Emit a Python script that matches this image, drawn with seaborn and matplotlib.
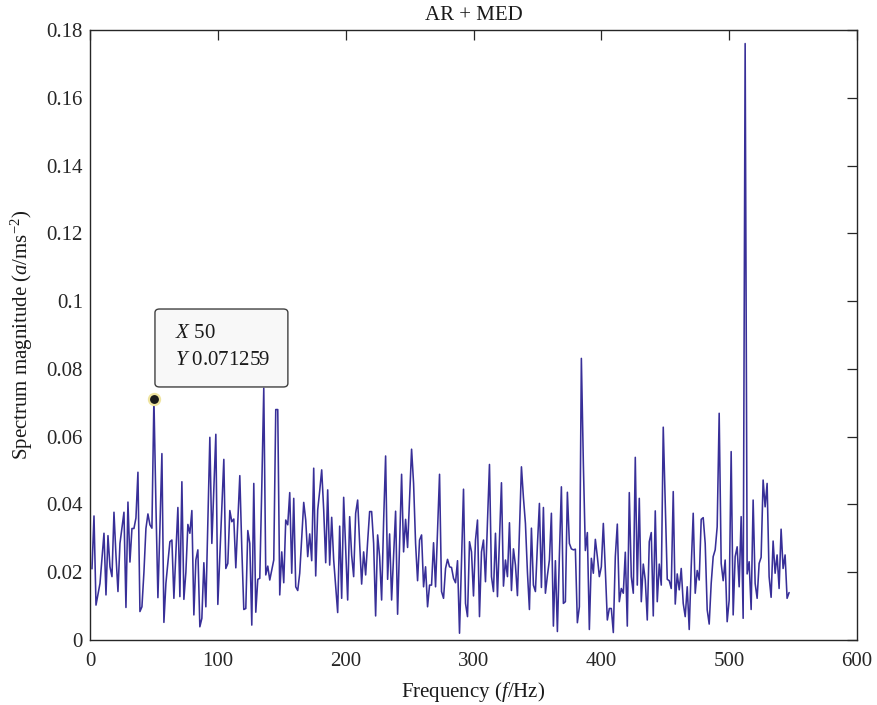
import numpy as np
import pandas as pd
import matplotlib
matplotlib.use("Agg")
import matplotlib.pyplot as plt
from matplotlib.patches import FancyBboxPatch
import seaborn as sns

# ---------------- data ----------------
freq_step = 1.5625  # Hz, spectral line spacing
magnitude_a = [  # 1.56 .. 151.6 Hz
    0.021, 0.0366, 0.0103, 0.0135, 0.0167, 0.024, 0.0315, 0.0133, 0.0308, 0.0216,
    0.0187, 0.0377, 0.025, 0.0143, 0.0285, 0.033, 0.0377, 0.0096, 0.0407, 0.023,
    0.0329, 0.0329, 0.036, 0.0495, 0.0084, 0.0098, 0.020, 0.0329, 0.0372, 0.034,
    0.033, 0.071259, 0.04, 0.0125, 0.033, 0.055, 0.0052, 0.0167, 0.023, 0.029,
    0.0295, 0.0123, 0.026, 0.0391, 0.0128, 0.0467, 0.012, 0.020, 0.0341, 0.0315,
    0.0382, 0.0074, 0.0236, 0.0266, 0.0039, 0.0064, 0.0228, 0.0098, 0.035, 0.0598,
    0.0285, 0.045, 0.0607, 0.0105, 0.025, 0.04, 0.0533, 0.0211, 0.0226, 0.0382,
    0.0349, 0.0357, 0.0213, 0.035, 0.0485, 0.027, 0.009, 0.0093, 0.0323, 0.0285,
    0.0044, 0.0462, 0.0082, 0.0179, 0.0182, 0.045, 0.0743, 0.0192, 0.0218, 0.0177,
    0.0207, 0.0236, 0.068, 0.068, 0.0133, 0.026, 0.0169,
]
magnitude_b = [  # 153.1 .. 303.1 Hz
    0.0354, 0.034, 0.0435, 0.0197, 0.0418, 0.0157, 0.0146, 0.0197, 0.03, 0.0406,
    0.0354, 0.0246, 0.0313, 0.0234, 0.0507, 0.0189, 0.0384, 0.044, 0.0502, 0.0384,
    0.0228, 0.0443, 0.0221, 0.0362, 0.0236, 0.016, 0.0081, 0.0336, 0.0123, 0.0421,
    0.0272, 0.0118, 0.0364, 0.025, 0.0187, 0.0374, 0.0413, 0.0285, 0.0165, 0.026,
    0.0192, 0.029, 0.0379, 0.0379, 0.0285, 0.0071, 0.031, 0.0246, 0.0118, 0.035,
    0.0543, 0.0179, 0.0313, 0.0118, 0.025, 0.038, 0.0076, 0.028, 0.0489, 0.026,
    0.0356, 0.0273, 0.042, 0.0563, 0.0462, 0.0285, 0.0175, 0.0295, 0.031, 0.0157,
    0.0216, 0.0098, 0.0162, 0.0162, 0.0287, 0.0157, 0.032, 0.0489, 0.0143, 0.0123,
    0.0211, 0.0238, 0.0216, 0.0214, 0.0182, 0.0169, 0.0234, 0.002, 0.023, 0.0445,
    0.0108, 0.0069, 0.029, 0.026, 0.013, 0.0295, 0.0354,
]
magnitude_c = [  # 304.7 .. 454.7 Hz
    0.0069, 0.026, 0.0295, 0.0172, 0.035, 0.0518, 0.0187, 0.0143, 0.0315, 0.0128,
    0.03, 0.0464, 0.0159, 0.0236, 0.0187, 0.0346, 0.0146, 0.0269, 0.0221, 0.0131,
    0.032, 0.0511, 0.042, 0.0344, 0.02, 0.009, 0.033, 0.0162, 0.0143, 0.028,
    0.0403, 0.0155, 0.0391, 0.0138, 0.019, 0.0236, 0.0374, 0.0041, 0.0234, 0.0025,
    0.025, 0.0452, 0.0108, 0.0113, 0.0436, 0.0285, 0.0269, 0.0266, 0.0268, 0.0051,
    0.0098, 0.0831, 0.052, 0.0264, 0.0317, 0.0031, 0.0241, 0.0197, 0.0297, 0.0246,
    0.0187, 0.0216, 0.0344, 0.0207, 0.0059, 0.0093, 0.0093, 0.0022, 0.0246, 0.0342,
    0.0113, 0.0152, 0.0138, 0.0259, 0.0041, 0.0435, 0.0187, 0.0138, 0.0539, 0.0162,
    0.0418, 0.0113, 0.0224, 0.0177, 0.0059, 0.029, 0.0317, 0.0071, 0.0381, 0.0113,
    0.0224, 0.0162, 0.0628, 0.04, 0.0179, 0.0175, 0.0152,
]
magnitude_d = [  # 456.3 .. 546.9 Hz
    0.0438, 0.0106, 0.0195, 0.0148, 0.0211, 0.0108, 0.0069, 0.0157, 0.0031, 0.0216,
    0.0374, 0.0138, 0.0205, 0.0177, 0.0356, 0.0361, 0.0285, 0.0089, 0.0047, 0.0167,
    0.0246, 0.0266, 0.0334, 0.0669, 0.0226, 0.0175, 0.0236, 0.0054, 0.0118, 0.0556,
    0.0074, 0.0246, 0.0275, 0.0157, 0.0364, 0.0064, 0.176, 0.0195, 0.0231, 0.009,
    0.0413, 0.0167, 0.0123, 0.0226, 0.0244, 0.0472, 0.0393, 0.0462, 0.0187, 0.0126,
    0.0292, 0.0197, 0.0251, 0.0152, 0.0327, 0.0211, 0.0251, 0.0123, 0.014,
]
magnitude = magnitude_a + magnitude_b + magnitude_c + magnitude_d
frequency = (np.arange(1, len(magnitude) + 1) * freq_step).tolist()

tip_x = 50
tip_y = 0.071259

x_ticks = [0, 100, 200, 300, 400, 500, 600]
y_ticks = [0, 0.02, 0.04, 0.06, 0.08, 0.1, 0.12, 0.14, 0.16, 0.18]
y_tick_labels = ["0", "0.02", "0.04", "0.06", "0.08", "0.1", "0.12", "0.14", "0.16", "0.18"]

title_text = "AR + MED"
x_label = r"Frequency ($\mathit{f}$/Hz)"
y_label = r"Spectrum magnitude ($\mathit{a}$/ms$^{-2}$)"

# ---------------- style ----------------
sns.set_theme(style="white")
plt.rcParams["font.family"] = ["Liberation Serif", "DejaVu Serif"]
plt.rcParams["mathtext.fontset"] = "custom"
plt.rcParams["mathtext.rm"] = "Liberation Serif"
plt.rcParams["mathtext.it"] = "Liberation Serif:italic"
plt.rcParams["mathtext.bf"] = "Liberation Serif:bold"
plt.rcParams["axes.unicode_minus"] = True

FS = 15
line_color = "#382f98"
axis_color = "#262626"
text_color = "#1a1a1a"

fig = plt.figure(figsize=(8.78, 7.05), dpi=100)
ax = fig.add_axes([90 / 878, 1 - 640 / 705, 767 / 878, 610 / 705])

df = pd.DataFrame({"Frequency": frequency, "Magnitude": magnitude})
sns.lineplot(data=df, x="Frequency", y="Magnitude", ax=ax, color=line_color,
             linewidth=1.15, estimator=None, sort=False)

ax.set_xlim(0, 600)
ax.set_ylim(0, 0.18)
ax.set_xticks(x_ticks)
ax.set_xticklabels([str(t) for t in x_ticks])
ax.set_yticks(y_ticks)
ax.set_yticklabels(y_tick_labels)
ax.tick_params(direction="in", length=7, width=0.9, top=True, right=True,
               labelsize=FS, colors=axis_color, pad=5)
ax.tick_params(axis="x", pad=9)
for sp in ax.spines.values():
    sp.set_visible(True)
    sp.set_color(axis_color)
    sp.set_linewidth(1.0)

ax.set_title(title_text, fontsize=FS, pad=7, color=text_color)
ax.set_xlabel(x_label, fontsize=FS, labelpad=6, color=text_color)
ax.set_ylabel(y_label, fontsize=FS, labelpad=8, color=text_color)

# data tip
ax.plot([tip_x], [tip_y], marker="o", markersize=8, markerfacecolor="#1a1a1a",
        markeredgecolor="#efe4a0", markeredgewidth=1.6, linestyle="none", zorder=5)
box = FancyBboxPatch((0.0847, 0.4148), 0.1733, 0.1278,
                     boxstyle="round,pad=0,rounding_size=0.006",
                     transform=ax.transAxes, facecolor="#f8f8f8",
                     edgecolor="#404040", linewidth=1.0, zorder=6)
ax.add_patch(box)
ax.text(0.1108, 0.495, r"$\mathit{X}$ 50", transform=ax.transAxes,
        fontsize=FS, va="baseline", ha="left", color=text_color, zorder=7)
ax.text(0.1108, 0.451, r"$\mathit{Y}$ 0.071259", transform=ax.transAxes,
        fontsize=FS, va="baseline", ha="left", color=text_color, zorder=7)

fig.savefig("out.png", dpi=100)
